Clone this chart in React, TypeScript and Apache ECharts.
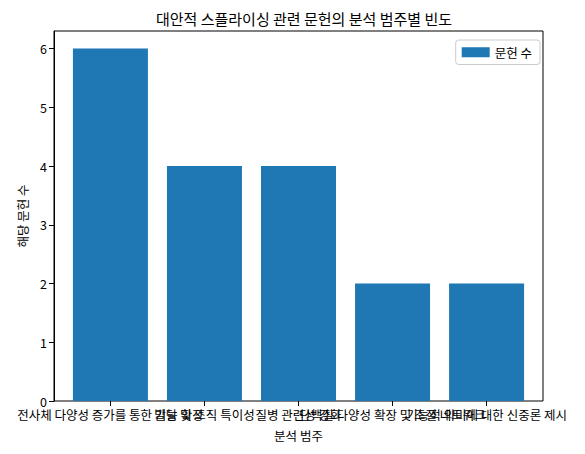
import { useEffect, useRef } from "react";
import * as echarts from "echarts";

const categories = [
  "전사체 다양성 증가를 통한 기능 확장",
  "발달 및 조직 특이성",
  "질병 관련성 강화",
  "단백질 다양성 확장 및 조절 네트워크",
  "기능적 의미에 대한 신중론 제시",
];
const counts = [6, 4, 4, 2, 2];

const FONT = "'Noto Sans CJK KR', 'Noto Sans', sans-serif";

// matplotlib pads the category range by 0.6 of a band on each side
const FRAME_LEFT = 54;
const FRAME_RIGHT = 42;
const BAND_PAD = 9.4;

export default function App() {
  const ref = useRef<HTMLDivElement | null>(null);

  useEffect(() => {
    const el = ref.current;
    if (!el) {
      return;
    }
    const chart = echarts.init(el, undefined, { renderer: "svg" });

    chart.setOption({
      animation: false,
      backgroundColor: "#ffffff",
      textStyle: { fontFamily: FONT },
      title: {
        text: "대안적 스플라이싱 관련 문헌의 분석 범주별 빈도",
        left: 299,
        textAlign: "center",
        top: 6,
        textStyle: { fontFamily: FONT, fontSize: 15, fontWeight: "normal", color: "#000" },
      },
      legend: {
        right: 45,
        top: 40,
        data: ["문헌 수"],
        icon: "rect",
        itemWidth: 28,
        itemHeight: 10,
        padding: [6, 8, 6, 6],
        backgroundColor: "#ffffff",
        borderColor: "#cccccc",
        borderWidth: 1,
        borderRadius: 3,
        textStyle: { fontFamily: FONT, fontSize: 12.5, color: "#000" },
      },
      grid: [
        {
          left: FRAME_LEFT,
          right: FRAME_RIGHT,
          top: 31,
          bottom: 53,
          show: true,
          borderColor: "#000",
          borderWidth: 1,
          backgroundColor: "transparent",
        },
        {
          left: FRAME_LEFT + BAND_PAD,
          right: FRAME_RIGHT + BAND_PAD,
          top: 31,
          bottom: 53,
          show: false,
        },
      ],
      xAxis: {
        type: "category",
        gridIndex: 1,
        data: categories,
        name: "분석 범주",
        nameLocation: "middle",
        nameGap: 28,
        nameTextStyle: { fontFamily: FONT, fontSize: 12.5, color: "#000" },
        splitLine: { show: false },
        axisLine: { show: false },
        axisTick: {
          show: true,
          alignWithLabel: true,
          length: 5,
          lineStyle: { color: "#000" },
        },
        axisLabel: {
          interval: 0,
          hideOverlap: false,
          margin: 7,
          fontFamily: FONT,
          fontSize: 12.5,
          color: "#000",
        },
      },
      yAxis: {
        type: "value",
        gridIndex: 1,
        offset: BAND_PAD,
        min: 0,
        max: 6.3,
        interval: 1,
        name: "해당 문헌 수",
        nameLocation: "middle",
        nameGap: 21,
        nameTextStyle: { fontFamily: FONT, fontSize: 12.5, color: "#000" },
        splitLine: { show: false },
        axisLine: { show: true, lineStyle: { color: "#000", width: 1 } },
        axisTick: { show: true, length: 5, lineStyle: { color: "#000" } },
        axisLabel: {
          showMaxLabel: false,
          margin: 7,
          fontFamily: FONT,
          fontSize: 12.5,
          color: "#000",
        },
      },
      series: [
        {
          name: "문헌 수",
          type: "bar",
          barWidth: 75,
          itemStyle: { color: "#1f77b4" },
          data: counts,
        },
      ],
    });

    return () => {
      chart.dispose();
    };
  }, []);

  return (
    <div
      ref={ref}
      style={{ width: 585, height: 454, position: "absolute", left: 0, top: 0 }}
    />
  );
}
